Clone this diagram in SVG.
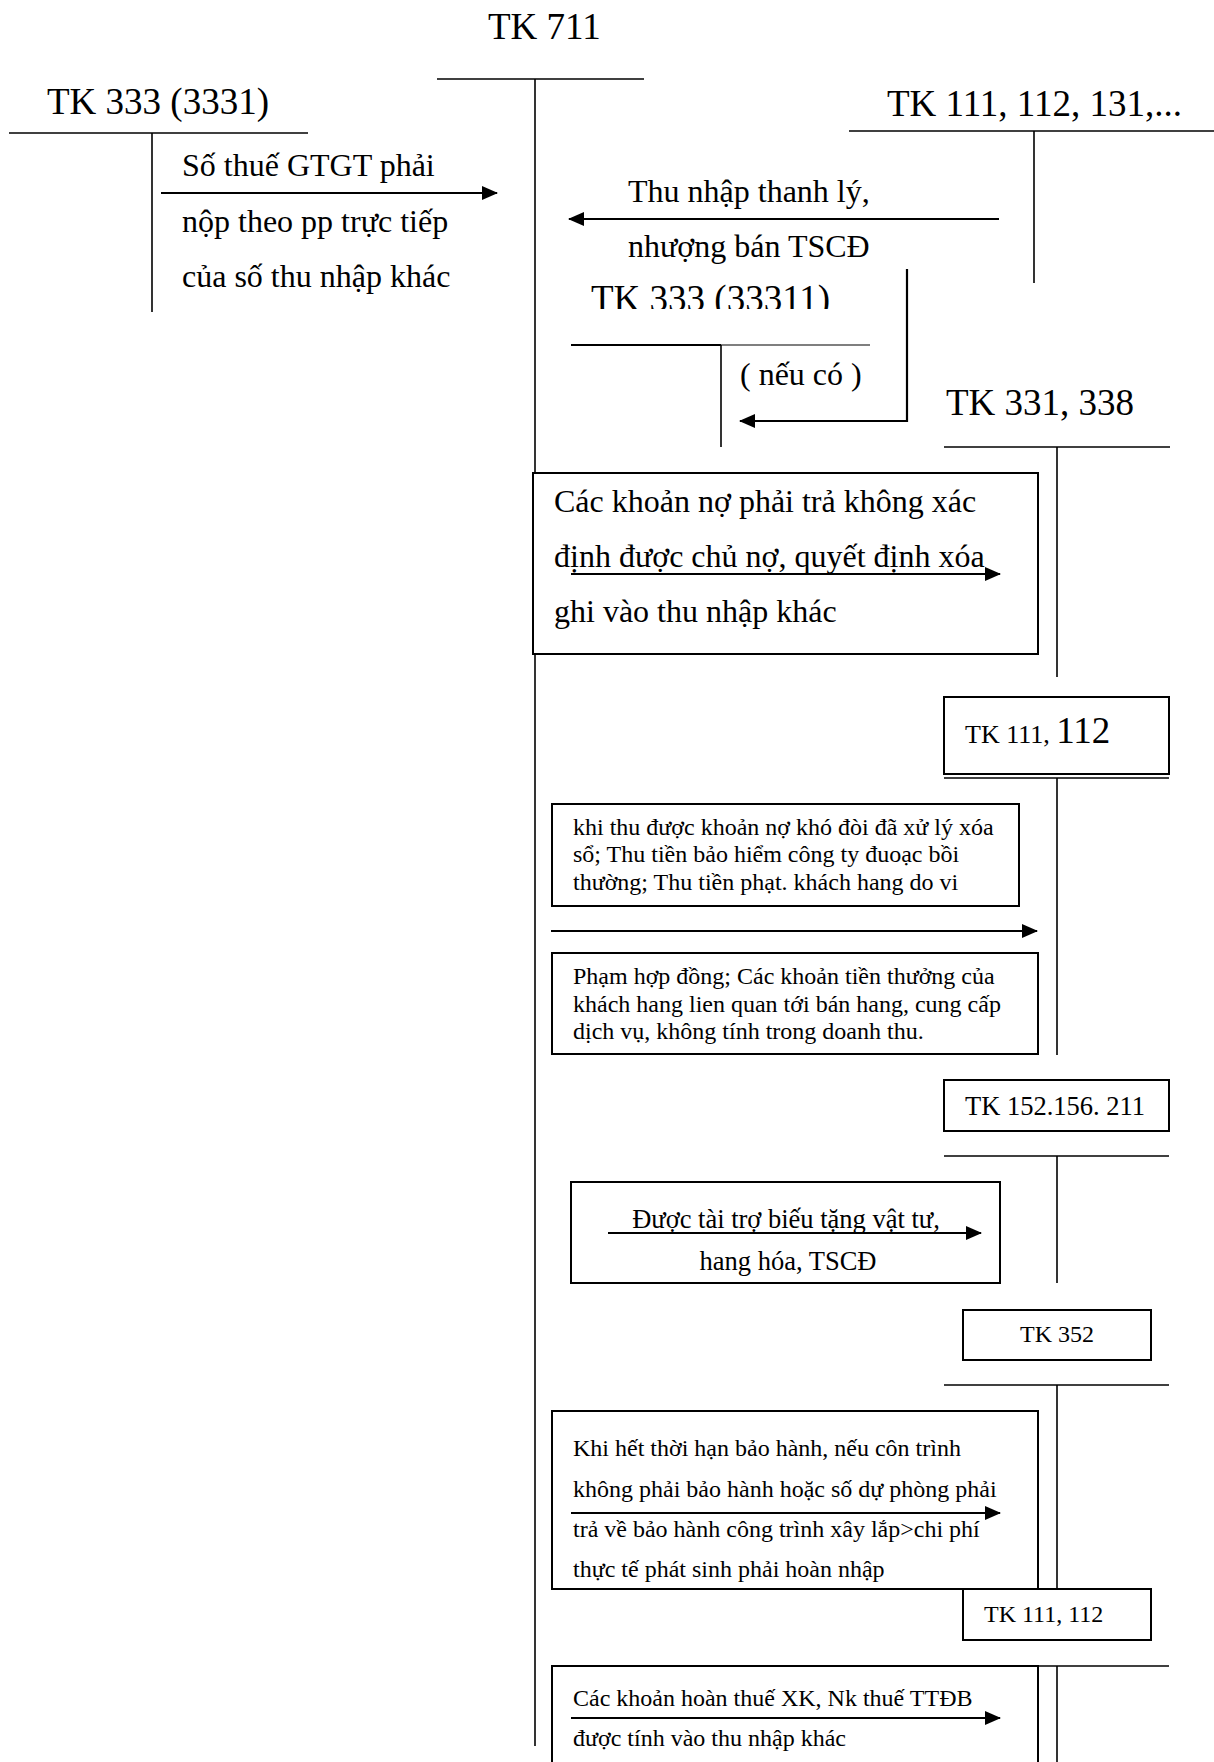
<svg xmlns="http://www.w3.org/2000/svg" width="1214" height="1762" viewBox="0 0 1214 1762">
<style>
  text { font-family: "Liberation Serif", "Times New Roman", serif; fill: #000; }
  .t37 { font-size: 37px; }
  .t32 { font-size: 32px; }
  .t26 { font-size: 26.5px; }
  .t24 { font-size: 24px; }
  .ln { stroke: #000; stroke-width: 1.6; fill: none; }
  .box { stroke: #000; stroke-width: 2; fill: #fff; }
  .arr { stroke: #000; stroke-width: 2.2; fill: none; marker-end: url(#ah); }
</style>
<defs>
  <marker id="ah" markerUnits="userSpaceOnUse" markerWidth="16" markerHeight="14" refX="15" refY="7" orient="auto">
    <path d="M0,0 L16,7 L0,14 z" fill="#000"/>
  </marker>
  <clipPath id="clip33311"><rect x="560" y="270" width="320" height="39"/></clipPath>
</defs>
<rect width="1214" height="1762" fill="#fff"/>

<g id="tk711">
  <text class="t37" x="488" y="39">TK 711</text>
  <line class="ln" x1="437" y1="79" x2="644" y2="79"/>
  <line class="ln" x1="535" y1="79" x2="535" y2="1746"/>
</g>

<g id="tk3331">
  <text class="t37" x="47" y="114">TK 333 (3331)</text>
  <line class="ln" x1="9" y1="133" x2="308" y2="133"/>
  <line class="ln" x1="152" y1="133" x2="152" y2="312"/>
</g>

<g id="tk111_112_131">
  <text class="t37" x="887" y="116">TK 111, 112, 131,...</text>
  <line class="ln" x1="849" y1="131" x2="1214" y2="131"/>
  <line class="ln" x1="1034" y1="131" x2="1034" y2="283"/>
</g>

<g id="tk33311">
  <text class="t37" x="591" y="311" clip-path="url(#clip33311)">TK 333 (33311)</text>
  <line x1="571" y1="345" x2="721" y2="345" stroke="#000" stroke-width="2.2"/>
  <line x1="721" y1="345" x2="870" y2="345" stroke="#000" stroke-width="1.2"/>
  <line class="ln" x1="721" y1="345" x2="721" y2="447"/>
  <text class="t32" x="740" y="385">( nếu có )</text>
</g>

<g id="tk331_338">
  <text class="t37" x="946" y="415">TK 331, 338</text>
  <line class="ln" x1="944" y1="447" x2="1170" y2="447"/>
  <line class="ln" x1="1057" y1="447" x2="1057" y2="677"/>
</g>

<g id="box_no_phai_tra">
  <rect class="box" x="533" y="473" width="505" height="181"/>
  <text class="t32" x="554" y="512">Các khoản nợ phải trả không xác</text>
  <text class="t32" x="554" y="567">định được chủ nợ, quyết định xóa</text>
  <text class="t32" x="554" y="622">ghi vào thu nhập khác</text>
</g>

<g id="tk111_112_a">
  <rect class="box" x="944" y="697" width="225" height="77"/>
  <line class="ln" x1="944" y1="778" x2="1169" y2="778"/>
  <text x="965" y="743"><tspan font-size="26">TK 111, </tspan><tspan font-size="37">112</tspan></text>
  <line class="ln" x1="1057" y1="778" x2="1057" y2="1055"/>
</g>

<g id="box_no_kho_doi">
  <rect class="box" x="552" y="804" width="467" height="102"/>
  <text class="t24" x="573" y="835">khi thu được khoản nợ khó đòi đã xử lý xóa</text>
  <text class="t24" x="573" y="862">sổ; Thu tiền bảo hiểm công ty đuoạc bồi</text>
  <text class="t24" x="573" y="890">thường; Thu tiền phạt. khách hang do vi</text>
</g>

<g id="box_pham_hop_dong">
  <rect class="box" x="552" y="953" width="486" height="101"/>
  <text class="t24" x="573" y="984">Phạm hợp đồng; Các khoản tiền thưởng của</text>
  <text class="t24" x="573" y="1012">khách hang lien quan tới bán hang, cung cấp</text>
  <text class="t24" x="573" y="1039">dịch vụ, không tính trong doanh thu.</text>
</g>

<g id="tk152_156_211">
  <rect class="box" x="944" y="1080" width="225" height="51"/>
  <text class="t26" x="965" y="1115">TK 152.156. 211</text>
  <line class="ln" x1="944" y1="1156" x2="1169" y2="1156"/>
  <line class="ln" x1="1057" y1="1156" x2="1057" y2="1283"/>
</g>

<g id="box_tai_tro">
  <rect class="box" x="571" y="1182" width="429" height="101"/>
  <text class="t26" x="786" y="1228" text-anchor="middle">Được tài trợ biếu tặng vật tư,</text>
  <text class="t26" x="788" y="1270" text-anchor="middle">hang hóa, TSCĐ</text>
</g>

<g id="tk352">
  <rect class="box" x="963" y="1310" width="188" height="50"/>
  <text class="t24" x="1057" y="1342" text-anchor="middle">TK 352</text>
  <line class="ln" x1="944" y1="1385" x2="1169" y2="1385"/>
  <line class="ln" x1="1057" y1="1385" x2="1057" y2="1589"/>
</g>

<g id="box_bao_hanh">
  <rect class="box" x="552" y="1411" width="486" height="178"/>
  <text class="t24" x="573" y="1456">Khi hết thời hạn bảo hành, nếu côn trình</text>
  <text class="t24" x="573" y="1497">không phải bảo hành hoặc số dự phòng phải</text>
  <text class="t24" x="573" y="1537">trả về bảo hành công trình xây lắp&gt;chi phí</text>
  <text class="t24" x="573" y="1577">thực tế phát sinh phải hoàn nhập</text>
</g>

<g id="tk111_112_b">
  <rect class="box" x="963" y="1589" width="188" height="51"/>
  <text class="t24" x="984" y="1622">TK 111, 112</text>
  <line class="ln" x1="944" y1="1666" x2="1169" y2="1666"/>
  <line class="ln" x1="1057" y1="1666" x2="1057" y2="1762"/>
</g>

<g id="box_hoan_thue">
  <rect class="box" x="552" y="1666" width="486" height="110"/>
  <text class="t24" x="573" y="1706">Các khoản hoàn thuế XK, Nk thuế TTĐB</text>
  <text class="t24" x="573" y="1746">được tính vào thu nhập khác</text>
</g>

<g id="labels">
  <text class="t32" x="182" y="176">Số thuế GTGT phải</text>
  <text class="t32" x="182" y="232">nộp theo pp trực tiếp</text>
  <text class="t32" x="182" y="287">của số thu nhập khác</text>
  <text class="t32" x="628" y="202">Thu nhập thanh lý,</text>
  <text class="t32" x="628" y="257">nhượng bán TSCĐ</text>
</g>

<g id="connectors">
  <line class="arr" x1="161" y1="193" x2="497" y2="193"/>
  <line class="arr" x1="999" y1="219" x2="569" y2="219"/>
  <polyline class="arr" points="907,269 907,421 740,421"/>
  <line class="arr" x1="571" y1="574" x2="1000" y2="574"/>
  <line class="arr" x1="551" y1="931" x2="1037" y2="931"/>
  <line class="arr" x1="608" y1="1233" x2="981" y2="1233"/>
  <line class="arr" x1="571" y1="1513" x2="1000" y2="1513"/>
  <line class="arr" x1="571" y1="1718" x2="1000" y2="1718"/>
</g>
</svg>
